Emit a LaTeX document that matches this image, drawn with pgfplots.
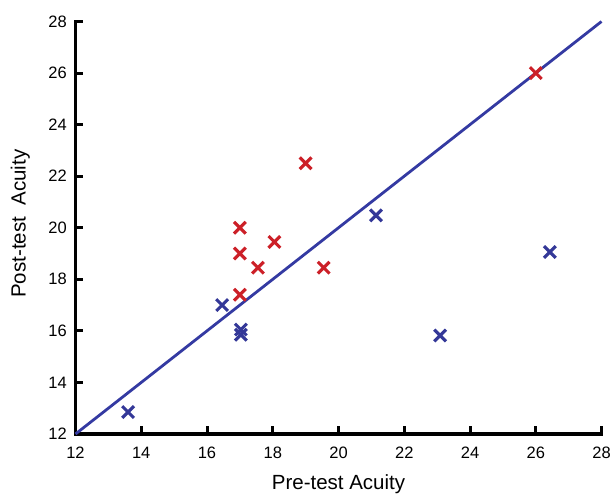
\documentclass[border=0pt]{standalone}
\usepackage{pgfplots}
\pgfplotsset{compat=1.18}
\usepackage{fontspec}
\setmainfont{Liberation Sans}
\definecolor{myred}{RGB}{204,32,40}
\definecolor{myblue}{RGB}{52,56,152}
\definecolor{lineblue}{RGB}{52,58,162}
\begin{document}
\begin{tikzpicture}
\begin{axis}[
  scale only axis,
  width=526pt, height=412.5pt,
  xmin=12, xmax=28, ymin=12, ymax=28,
  xtick={12,14,...,28}, ytick={12,14,...,28},
  axis x line=bottom, axis y line=left,
  axis line style={-, line width=3.2pt, line cap=rect},
  major tick length=8pt,
  tick style={line width=3pt, black},
  tick align=inside,
  /pgf/number format/assume math mode=true,
  ticklabel style={font=\fontsize{16.5}{19}\selectfont},
  xticklabel style={inner sep=0pt, anchor=north, yshift=-12.5pt},
  yticklabel style={inner sep=0pt, anchor=east, xshift=-8.5pt},
  label style={font=\fontsize{20.5}{24}\selectfont},
  xlabel={Pre-test Acuity},
  ylabel={Post-test\ \ Acuity},
  xlabel style={at={(axis description cs:0.5,-0.135)}, anchor=base},
  ylabel style={at={(axis description cs:-0.105,0.51)}, anchor=center, rotate=0},
  clip=false,
]
\addplot[lineblue, line width=2.8pt] coordinates {(12,12) (28,28)};
\addplot[only marks, mark=x, mark size=8.3pt, myred, mark options={line width=3.1pt}] coordinates {
(17,20) (17,19) (17.55,18.45) (18.05,19.45) (17,17.4) (19.55,18.45) (19,22.5) (26,26)
};
\addplot[only marks, mark=x, mark size=8.3pt, myblue, mark options={line width=3.1pt}] coordinates {
(13.6,12.85) (16.46,17.0) (17.03,16.05) (17.03,15.85) (21.14,20.48) (23.09,15.82) (26.43,19.06)
};
\end{axis}
\path[use as bounding box] (-75.5pt,-56pt) rectangle (536.5pt,434pt);
\end{tikzpicture}
\end{document}
